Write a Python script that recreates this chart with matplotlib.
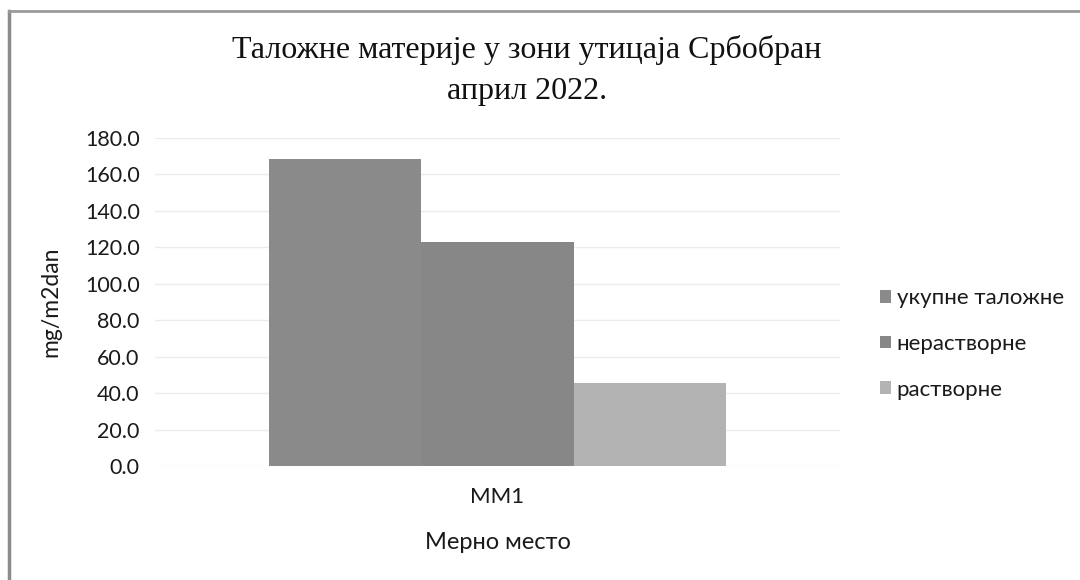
import numpy as np
import matplotlib
matplotlib.use("Agg")
import matplotlib.pyplot as plt
from matplotlib.lines import Line2D

# data
categories = ["MM1"]
series_names = ["укупне таложне", "нерастворне", "растворне"]
series_values = [[168.6], [123.1], [45.5]]
series_colors = ["#8a8a8a", "#878787", "#b3b3b3"]
yticks = [0, 20, 40, 60, 80, 100, 120, 140, 160, 180]

plt.rcParams['font.family'] = ['Lato', 'DejaVu Sans']
txt_col = '#1a1a1a'

fig = plt.figure(figsize=(10.8, 5.8), dpi=100)
ax = fig.add_axes([155/1080, (580-466)/580, (840-155)/1080, (466-138)/580])

n = len(series_names)
group_w = 1/1.5   # excel gap width 50%
bw = group_w / n
x = np.arange(len(categories))
for i, (name, vals, col) in enumerate(zip(series_names, series_values, series_colors)):
    ax.bar(x - group_w/2 + bw*(i+0.5), vals, width=bw, color=col, label=name,
           edgecolor='none', zorder=2)

ax.set_xlim(-0.5, 0.5)
ax.set_ylim(0, 180)
ax.set_yticks(yticks)
ax.set_yticklabels([f"{v:.1f}" for v in yticks], fontsize=15.5, color=txt_col)
ax.set_xticks(x)
ax.set_xticklabels(categories, fontsize=16, color=txt_col)
ax.tick_params(length=0)
ax.tick_params(axis='y', pad=11)
ax.tick_params(axis='x', pad=15)
ax.grid(axis='y', color='#ececec', linewidth=1, zorder=0)
for s in ax.spines.values():
    s.set_visible(False)

ax.set_ylabel("mg/m2dan", fontsize=16.5, color=txt_col, labelpad=17)
ax.set_xlabel("Мерно место", fontsize=17, color=txt_col, labelpad=18)

fig.text(527/1080, 1 - 50/580, "Таложне материје у зони утицаја Србобран",
         ha='center', va='center', fontsize=23, family='Liberation Serif', color='#111111')
fig.text(527/1080, 1 - 92/580, "април 2022.",
         ha='center', va='center', fontsize=23, family='Liberation Serif', color='#111111')

leg = ax.legend(loc='center left', bbox_to_anchor=(869/1080, 1 - 344/580),
                bbox_transform=fig.transFigure, frameon=False, fontsize=16,
                handlelength=0.5, handleheight=0.5, handletextpad=0.25,
                labelspacing=1.15, borderpad=0)
for t in leg.get_texts():
    t.set_color(txt_col)

# scanned page border (left and top edges only)
fig.add_artist(Line2D([9/1080, 9/1080], [0, 1 - 11/580], transform=fig.transFigure,
                      color='#8c8c8c', linewidth=2.5))
fig.add_artist(Line2D([9/1080, 1], [1 - 11/580, 1 - 11/580], transform=fig.transFigure,
                      color='#9a9a9a', linewidth=2))

fig.savefig("out.png", dpi=100, facecolor='white')
